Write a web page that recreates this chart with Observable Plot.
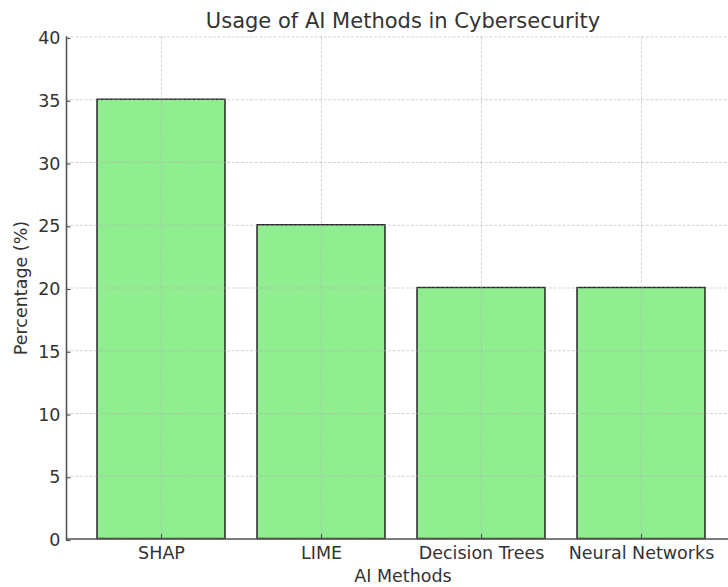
<!DOCTYPE html>
<html>
<head>
<meta charset="utf-8">
<script src="https://cdn.jsdelivr.net/npm/d3@7"></script>
<script src="https://cdn.jsdelivr.net/npm/@observablehq/plot@0.6"></script>
<style>
  html, body { margin: 0; padding: 0; background: #fff; }
  #chart svg { display: block; }
</style>
</head>
<body>
<div id="chart"></div>
<script>
const methods = ["SHAP", "LIME", "Decision Trees", "Neural Networks"];
const usage = [35, 25, 20, 20];
const yTicks = [0, 5, 10, 15, 20, 25, 30, 35, 40];
const titleText = "Usage of AI Methods in Cybersecurity";
const xLabel = "AI Methods";
const yLabel = "Percentage (%)";

const data = methods.map((m, i) => ({method: m, value: usage[i]}));

const gridStyle = {stroke: "#b0b0b0", strokeOpacity: 0.7, strokeWidth: 0.8, strokeDasharray: "3,1.6"};
const textColor = "#333333";
const spineColor = "#555555";

const chart = Plot.plot({
  width: 728,
  height: 587,
  marginTop: 36.5,
  marginBottom: 48.5,
  marginLeft: 66,
  marginRight: 0,
  style: {fontFamily: "'DejaVu Sans', sans-serif", fontSize: "17.5px", color: textColor, background: "#fff"},
  x: {domain: methods, range: [64.5, 737.5], padding: 0.2, label: null},
  y: {domain: [0, 40], range: [538.5, 36.5], label: null},
  marks: [
    Plot.barY(data, {x: "method", y: "value", fill: "#90EE90", stroke: "#1a1a1a", strokeWidth: 1.4}),
    Plot.gridX(methods, gridStyle),
    Plot.gridY(yTicks, gridStyle),
    Plot.frame({anchor: "left", stroke: spineColor, strokeWidth: 1.6}),
    Plot.ruleY([0], {stroke: spineColor, strokeWidth: 1.6}),
    Plot.axisX(methods, {tickSize: -4.5, tickPadding: 12.5, stroke: spineColor, strokeWidth: 1.2, fontSize: 17.5, fill: textColor, label: null}),
    Plot.axisY(yTicks, {tickSize: -4.5, tickPadding: 10.5, dy: 1.5, stroke: spineColor, strokeWidth: 1.2, fontSize: 17.5, fill: textColor, label: null}),
    Plot.text([titleText], {frameAnchor: "top", lineAnchor: "bottom", dx: 5.5, dy: -8.8, fontSize: 21, fill: textColor}),
    Plot.text([xLabel], {frameAnchor: "bottom", lineAnchor: "bottom", dx: 5.5, dy: 43, fontSize: 17.5, fill: textColor}),
    Plot.text([yLabel], {frameAnchor: "left", rotate: -90, textAnchor: "middle", lineAnchor: "middle", dx: -45, fontSize: 17.5, fill: textColor})
  ]
});
document.getElementById("chart").appendChild(chart);
</script>
</body>
</html>
